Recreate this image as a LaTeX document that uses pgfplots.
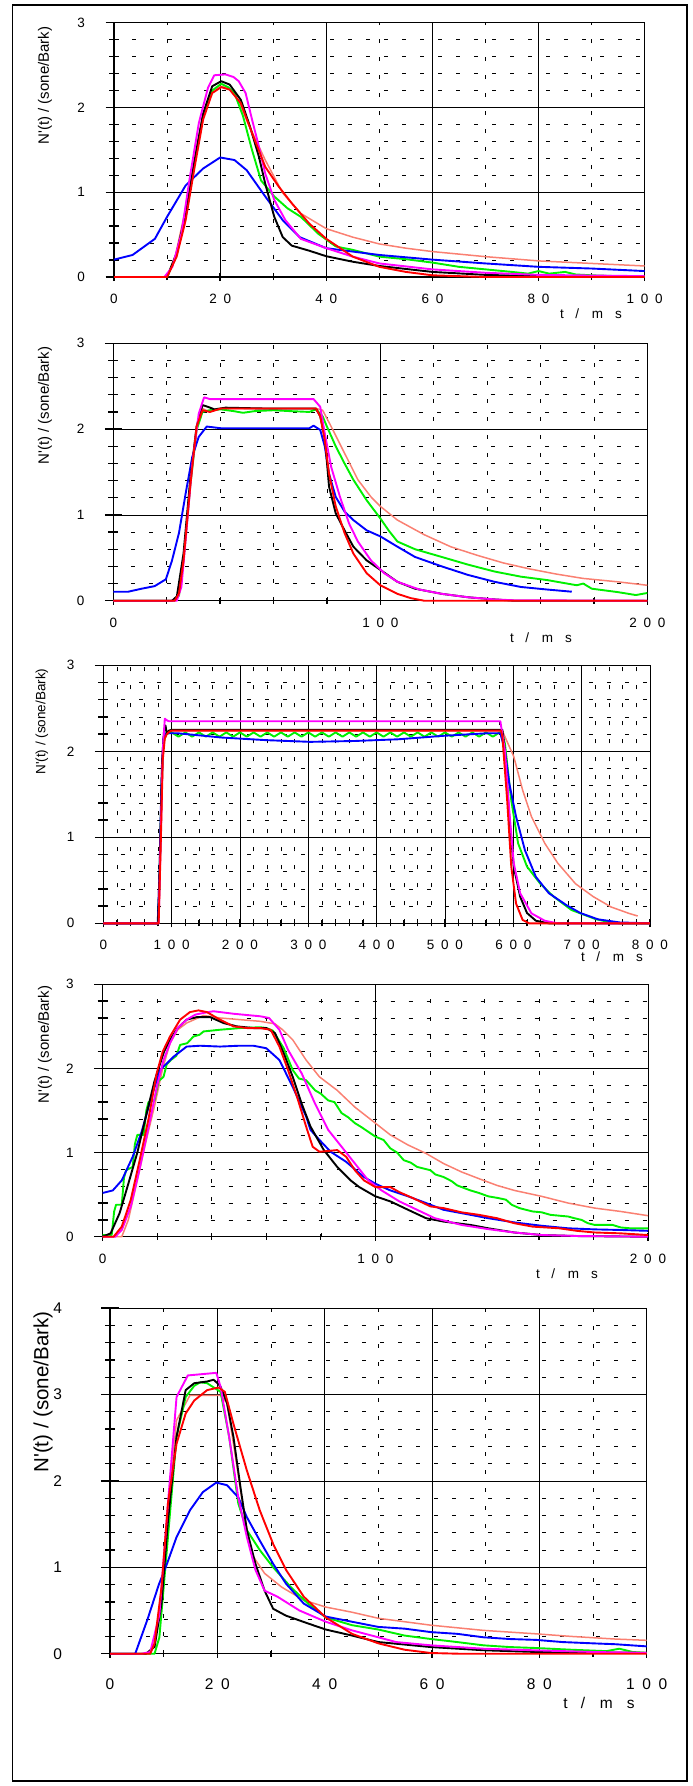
\documentclass[border=0pt]{standalone}
\usepackage{fontspec}
\setmainfont{Liberation Sans}
\usepackage{pgfplots}
\pgfplotsset{compat=1.18}

\definecolor{cSal}{RGB}{250,128,114}
\definecolor{cGrn}{RGB}{0,240,0}
\definecolor{cBlu}{RGB}{0,0,255}
\definecolor{cRed}{RGB}{255,0,0}
\definecolor{cMag}{RGB}{255,0,255}
\newcommand{\ds}{\hspace{0.5em}}
\newcommand{\tms}{t\hspace{0.85em}/\hspace{0.95em}m\hspace{0.9em}s}
\newcommand{\ylab}{N\textquotesingle(t) / (sone/Bark)}

\pgfplotsset{
  panel/.style={
    scale only axis, anchor=south west, clip=false,
    axis lines*=left, axis line style={black, line width=1.2pt},
    grid=both,
    major grid style={black, line width=0.6pt},
    minor grid style={black, line width=0.6pt, dash pattern=on 4pt off 14pt},
    tick align=center, major tick length=17pt, minor tick length=10pt,
    tick style={black, line width=1.3pt},
    xtick style={/pgfplots/major tick length=8pt, /pgfplots/minor tick length=6pt},
    ymin=0, ymax=3, ytick={0,1,2,3}, yticklabels={0,1,2,3}, minor y tick num=4,
    xmin=0,
    yticklabel style={font=\fontsize{13.5}{16}\selectfont, xshift=-17pt},
    xticklabel style={font=\fontsize{13.5}{16}\selectfont, yshift=-5pt},
  },
  sal/.style={cSal, line width=1.5pt, line join=round},
  grn/.style={cGrn, line width=1.9pt, line join=round},
  blu/.style={cBlu, line width=1.9pt, line join=round},
  blk/.style={black, line width=1.9pt, line join=round},
  mag/.style={cMag, line width=1.9pt, line join=round},
  red/.style={cRed, line width=1.9pt, line join=round},
}

\begin{document}
\begin{tikzpicture}
\useasboundingbox (0,0) rectangle (693pt,-1786pt);
\draw[line width=1.5pt] (12.7pt,-5pt) rectangle (687pt,-1781pt);

% ---------------- panel 1 : 0..100 ms
\begin{axis}[panel, at={(114pt,-277pt)}, width=530.7pt, height=254.3pt,
  xmax=100, xtick={0,20,...,100}, minor x tick num=1,
  xticklabels={0,2\ds0,4\ds0,6\ds0,8\ds0,1\ds0\ds0}]
\addplot[sal] coordinates {(0,0)(10,0)(11.6,0.26)(13.3,0.75)(15,1.38)(16.8,1.92)(18.5,2.2)(20.2,2.25)(21.8,2.22)(23.5,2.08)(25.2,1.82)(28.5,1.38)(31.8,0.99)(35.2,0.75)(40,0.57)(45,0.47)(50,0.39)(55,0.34)(60,0.30)(70,0.24)(80,0.19)(90,0.16)(100,0.13)};
\addplot[grn] coordinates {(0,0)(10,0)(11.8,0.26)(13.5,0.72)(15.2,1.35)(16.8,1.9)(18.5,2.2)(20.2,2.28)(21.5,2.24)(22.7,2.17)(24.3,1.9)(26,1.5)(27.7,1.14)(30.2,0.95)(32.7,0.81)(35.2,0.71)(38.5,0.51)(41.8,0.36)(45,0.32)(50,0.24)(55,0.21)(60,0.17)(65,0.12)(70,0.09)(75,0.06)(78,0.04)(80,0.07)(82,0.04)(85,0.06)(87,0.03)(90,0.02)(100,0)};
\addplot[blu] coordinates {(0,0.205)(3.5,0.26)(7.7,0.45)(10,0.71)(13.5,1.08)(16.8,1.28)(20,1.41)(22.7,1.38)(25,1.26)(28.5,0.95)(31.8,0.67)(35,0.47)(40,0.34)(45,0.30)(50,0.26)(60,0.205)(70,0.16)(80,0.12)(90,0.10)(100,0.07)};
\addplot[blk] coordinates {(0,0)(10,0)(11.8,0.28)(13.5,0.75)(15.2,1.38)(16.8,1.93)(18.5,2.25)(20.2,2.31)(21.8,2.27)(23.9,2.09)(25.6,1.78)(27.3,1.42)(28.5,1.1)(30.2,0.71)(31.8,0.47)(33.5,0.37)(36.8,0.31)(40,0.245)(45,0.18)(50,0.13)(60,0.06)(70,0.025)(80,0.01)(100,0)};
\addplot[mag] coordinates {(0,0)(9.5,0)(11,0.12)(12.7,0.51)(14.3,1.18)(16,1.82)(17.7,2.23)(18.9,2.38)(21,2.39)(22.5,2.36)(23.5,2.31)(24.8,2.17)(26,1.86)(27.3,1.54)(28.5,1.22)(30.2,0.91)(32.3,0.67)(35.2,0.45)(40,0.34)(45,0.24)(50,0.16)(60,0.09)(70,0.05)(80,0.025)(100,0.01)};
\addplot[red] coordinates {(0,0)(10,0)(11.8,0.24)(13.5,0.67)(15.2,1.3)(16.8,1.86)(18.5,2.17)(20.2,2.24)(21.8,2.21)(23.9,2.05)(26,1.7)(28.5,1.3)(31,1.07)(33.5,0.87)(36.8,0.63)(40,0.45)(45,0.24)(50,0.12)(55,0.06)(60,0.02)(70,0)(100,0)};
\end{axis}
\node[rotate=90, anchor=east, font=\fontsize{15}{16}\selectfont] at (45pt,-23pt) {\ylab};
\node[font=\fontsize{13.5}{16}\selectfont] at (591pt,-314pt) {\tms};

% ---------------- panel 2 : 0..200 ms
\begin{axis}[panel, at={(113.3pt,-600.7pt)}, width=534pt, height=257.4pt,
  xmax=200, xtick={0,100,200}, minor x tick num=4,
  xticklabels={0,1\ds0\ds0,2\ds0\ds0}]
\addplot[sal] coordinates {(0,0)(23,0)(24.6,0.08)(26.3,0.47)(28.8,1.35)(31.2,2.03)(33.4,2.24)(36,2.2)(40,2.24)(76,2.24)(78.4,2.22)(81.6,2.03)(86.6,1.72)(91.6,1.41)(96.5,1.21)(100,1.1)(106.4,0.94)(116.4,0.77)(126.3,0.63)(136.2,0.53)(146.1,0.44)(156,0.37)(166,0.31)(175.9,0.26)(189,0.22)(200,0.18)};
\addplot[grn] coordinates {(0,0)(23,0)(24.6,0.06)(26.3,0.47)(28.8,1.33)(31.2,1.99)(33.4,2.2)(36,2.22)(40.3,2.23)(45,2.21)(48.6,2.19)(53,2.21)(60,2.22)(66,2.21)(73.4,2.2)(75.9,2.23)(78.4,2.15)(80,2.03)(83.3,1.80)(86.6,1.6)(89.9,1.41)(94.9,1.17)(100,0.96)(103.1,0.82)(106.4,0.69)(113,0.6)(123,0.51)(132.9,0.42)(142.8,0.34)(152.7,0.28)(162.6,0.24)(173.6,0.18)(176,0.2)(179.2,0.14)(189,0.1)(195.7,0.066)(200,0.09)};
\addplot[blu] coordinates {(0,0.105)(5.6,0.105)(10.6,0.14)(15.5,0.17)(19.7,0.25)(22,0.47)(24.6,0.79)(27.1,1.25)(29.6,1.68)(32,1.91)(35,2.03)(40.3,2.01)(56.9,2.01)(73.4,2.01)(75,2.04)(77.5,1.99)(79.2,1.80)(80.8,1.48)(83.3,1.21)(86.6,1.04)(89.9,0.94)(94.9,0.82)(100,0.75)(106.4,0.63)(113,0.51)(123,0.40)(132.9,0.30)(142.8,0.22)(152.7,0.16)(162.6,0.13)(171.7,0.105)};
\addplot[blk] coordinates {(0,0)(22,0)(23.8,0.05)(26.3,0.55)(28.8,1.41)(31.2,2.03)(33.4,2.28)(35.4,2.26)(37.9,2.23)(42,2.25)(56.9,2.24)(75.9,2.24)(77.5,2.15)(79.2,1.91)(80.8,1.33)(83.3,1.02)(86.6,0.82)(89.9,0.63)(94.9,0.47)(100,0.36)(106.4,0.22)(113,0.14)(123,0.08)(132.9,0.04)(142.8,0.015)(150,0)(200,0)};
\addplot[mag] coordinates {(0,0)(23.8,0)(25.5,0.16)(27.1,0.71)(29.6,1.6)(32,2.18)(34,2.37)(36.2,2.35)(56.9,2.35)(75,2.35)(77.5,2.26)(79.2,1.95)(81.6,1.56)(84.9,1.21)(88.3,0.9)(91.6,0.69)(96.5,0.47)(101.5,0.32)(106.4,0.22)(114.7,0.13)(123,0.08)(132.9,0.04)(142.8,0.015)(150,0.005)(200,0)};
\addplot[red] coordinates {(0,0)(23,0)(24.6,0.085)(26.3,0.47)(28.8,1.33)(31.2,2.03)(33.4,2.22)(36.2,2.2)(40.3,2.24)(75.9,2.24)(77.5,2.15)(79.2,1.87)(80.8,1.48)(83.3,1.1)(86.6,0.79)(89.9,0.55)(94.9,0.32)(100,0.18)(106.4,0.08)(111.4,0.03)(116.4,0)(200,0)};
\end{axis}
\node[rotate=90, anchor=east, font=\fontsize{15}{16}\selectfont] at (45pt,-343pt) {\ylab};
\node[font=\fontsize{13.5}{16}\selectfont] at (541pt,-638pt) {\tms};

% ---------------- panel 3 : 0..800 ms
\begin{axis}[panel, at={(103.3pt,-923.3pt)}, width=546.7pt, height=258pt,
  xmax=800, xtick={0,100,...,800}, minor x tick num=4,
  xticklabels={0,1\ds0\ds0,2\ds0\ds0,3\ds0\ds0,4\ds0\ds0,5\ds0\ds0,6\ds0\ds0,7\ds0\ds0,8\ds0\ds0}]
\addplot[sal] coordinates {(0,0)(81,0)(84,0.9)(87,1.9)(90,2.18)(95,2.24)(584,2.24)(587.7,2.17)(600.6,1.94)(613.6,1.55)(626.5,1.24)(646,0.93)(665,0.70)(691,0.46)(717,0.31)(743,0.19)(769,0.116)(782,0.085)};
\addplot[grn] coordinates {(0,0)(80,0)(82,0.4)(85,1.5)(88,2.1)(92,2.2)(100,2.22)(110,2.17)(120,2.22)(130,2.17)(140,2.22)(150,2.17)(160,2.22)(170,2.17)(180,2.22)(190,2.17)(200,2.22)(210,2.17)(220,2.22)(230,2.17)(240,2.22)(250,2.17)(260,2.22)(270,2.17)(280,2.22)(290,2.17)(300,2.22)(310,2.17)(320,2.22)(330,2.17)(340,2.22)(350,2.17)(360,2.22)(370,2.17)(380,2.22)(390,2.17)(400,2.22)(410,2.17)(420,2.22)(430,2.17)(440,2.22)(450,2.17)(460,2.22)(470,2.17)(480,2.22)(490,2.17)(500,2.22)(510,2.17)(520,2.22)(530,2.17)(540,2.22)(550,2.17)(560,2.22)(570,2.17)(580,2.22)(584,2.2)(587.7,2.09)(597,1.43)(607,0.93)(620,0.66)(639.5,0.46)(659,0.31)(685,0.155)(700,0.11)(711,0.077)(720,0.05)(736.5,0.02)(756,0)(800,0)};
\addplot[blu] coordinates {(0,0)(79.6,0)(82,0.5)(85,1.6)(88,2.15)(92,2.21)(108.7,2.21)(173.5,2.16)(238,2.13)(303,2.11)(367.6,2.12)(432,2.14)(497,2.18)(562,2.21)(581,2.21)(587.7,2.01)(594,1.63)(604,1.24)(617,0.85)(633,0.54)(652,0.35)(678,0.21)(698,0.12)(724,0.046)(756,0.01)(800,0)};
\addplot[blk] coordinates {(0,0)(80,0)(83,0.8)(86,1.9)(89,2.25)(91,2.3)(93,2.2)(96,2.24)(100,2.25)(584,2.25)(587.7,2.01)(594,1.24)(600.6,0.66)(610,0.31)(620,0.12)(633,0.03)(652,0)(800,0)};
\addplot[mag] coordinates {(0,0)(81,0)(84,1.0)(87,2.0)(90,2.38)(93,2.36)(96,2.35)(581,2.35)(587.7,2.01)(594,1.32)(600.6,0.70)(610,0.35)(626.5,0.116)(646,0.03)(665,0)(800,0)};
\addplot[red] coordinates {(0,0)(81,0)(84,0.9)(87,1.9)(90,2.15)(93,2.2)(97,2.23)(100,2.24)(582,2.24)(584,2.17)(591,1.43)(597,0.66)(604,0.23)(613.6,0.04)(623,0)(800,0)};
\end{axis}
\node[rotate=90, anchor=east, font=\fontsize{13.5}{16}\selectfont] at (42pt,-665pt) {\ylab};
\node[font=\fontsize{13.5}{16}\selectfont] at (612pt,-957pt) {\tms};

% ---------------- panel 4 : 0..200 ms
\begin{axis}[panel, at={(102.7pt,-1236.7pt)}, width=545.3pt, height=252.4pt,
  xmax=200, xtick={0,100,200}, minor x tick num=4,
  xticklabels={0,1\ds0\ds0,2\ds0\ds0}]
\addplot[sal] coordinates {(0,0)(7,0)(9.4,0.2)(12.7,0.67)(16,1.15)(19.2,1.58)(22,2.0)(24.7,2.3)(27.5,2.46)(30.8,2.54)(37,2.63)(43,2.6)(50.4,2.58)(57.8,2.56)(63.2,2.53)(66,2.46)(69.7,2.34)(74.6,2.1)(79.5,1.9)(86,1.74)(92.5,1.54)(100,1.35)(105.5,1.21)(112,1.09)(118.6,0.99)(125,0.87)(131.6,0.77)(138,0.69)(144.6,0.61)(151,0.55)(161,0.48)(170.7,0.40)(180.5,0.34)(190,0.3)(200,0.25)};
\addplot[grn] coordinates {(0,0.02)(3.3,0.02)(4.2,0.3)(4.9,0.38)(7,0.38)(7.8,0.7)(8.6,0.79)(11,0.83)(11.8,1.1)(12.7,1.21)(15,1.21)(16,1.5)(16.8,1.6)(19,1.62)(20.5,1.85)(22.3,1.9)(23.5,2.05)(25,2.1)(27,2.15)(28.4,2.28)(31,2.3)(33.3,2.38)(35.5,2.4)(37,2.44)(43,2.46)(50.4,2.48)(57.8,2.49)(60,2.48)(62.4,2.45)(66.4,2.24)(69.7,1.98)(72,1.88)(74.6,1.86)(77.9,1.74)(80,1.7)(82.7,1.62)(85,1.6)(87.6,1.47)(90,1.42)(92.5,1.35)(95,1.3)(100,1.19)(103,1.15)(105.5,1.05)(108,1.0)(110.4,0.91)(113,0.88)(115.3,0.83)(120.2,0.79)(122,0.74)(125,0.71)(128,0.66)(130,0.61)(134.9,0.55)(138,0.52)(141.4,0.48)(145,0.46)(147.9,0.44)(150,0.38)(152.8,0.34)(157.7,0.3)(161,0.29)(164.2,0.26)(170.7,0.24)(173,0.22)(175.6,0.2)(178,0.16)(180.5,0.14)(187,0.14)(190,0.11)(193.5,0.1)(200,0.1)};
\addplot[blu] coordinates {(0,0.52)(3.7,0.55)(7,0.67)(11,0.95)(14.3,1.25)(17.5,1.62)(21,1.98)(26,2.14)(30.8,2.26)(35.7,2.27)(43,2.26)(50,2.27)(55.3,2.27)(60,2.24)(64.8,2.1)(69.7,1.78)(74.6,1.43)(76.2,1.27)(79.5,1.15)(83.6,1.01)(89.3,0.89)(95.8,0.71)(100,0.63)(105.5,0.55)(112,0.48)(118.6,0.40)(125,0.32)(134.9,0.26)(141.4,0.22)(151,0.17)(161,0.13)(170.7,0.1)(180.5,0.087)(190,0.08)(200,0.07)};
\addplot[blk] coordinates {(0,0)(2.9,0.04)(6.2,0.28)(9.4,0.63)(12.7,1.0)(16,1.45)(19,1.85)(20.5,2.0)(22.5,2.2)(24.7,2.34)(27.5,2.48)(30.8,2.58)(34.5,2.61)(39.4,2.61)(44.3,2.54)(49.2,2.5)(55.3,2.48)(60,2.48)(63.2,2.42)(66.4,2.18)(69.7,1.9)(73,1.58)(76.2,1.31)(81.1,1.03)(86,0.83)(90.9,0.67)(94.1,0.59)(100,0.48)(105.5,0.42)(112,0.32)(118.6,0.22)(125,0.18)(134.9,0.14)(141.4,0.1)(151,0.05)(161,0.02)(173.9,0.008)(200,0)};
\addplot[mag] coordinates {(0,0)(4.6,0)(7,0.08)(10.3,0.36)(13.5,0.8)(16.8,1.3)(20,1.8)(22.3,2.1)(24.7,2.3)(27.5,2.48)(30.8,2.58)(34,2.64)(37,2.66)(40.6,2.68)(48,2.65)(57.8,2.62)(61,2.6)(64.8,2.46)(68,2.22)(73,1.94)(77.9,1.58)(82.7,1.27)(87.6,1.07)(92.5,0.87)(97.4,0.67)(102.3,0.55)(108.8,0.42)(115.3,0.32)(121.8,0.22)(131.6,0.14)(141.4,0.09)(151,0.05)(161,0.02)(175,0.008)(200,0)};
\addplot[red] coordinates {(0,0)(4,0)(7,0.12)(10.3,0.44)(13.5,0.9)(16.8,1.4)(19.8,1.94)(22,2.2)(24.7,2.38)(28.4,2.58)(32,2.67)(35.1,2.69)(38.2,2.67)(43,2.58)(48,2.5)(52.9,2.48)(57.8,2.48)(61.6,2.46)(64.8,2.26)(68,1.98)(71.3,1.66)(74.6,1.31)(77,1.07)(79.5,1.01)(83,1.02)(86,1.03)(89.3,0.95)(92.5,0.79)(95.8,0.67)(100,0.59)(105.5,0.59)(108.8,0.53)(113.7,0.46)(120.2,0.36)(125,0.34)(131.6,0.29)(138,0.26)(144.6,0.22)(151,0.16)(157.7,0.12)(167.4,0.1)(173.9,0.07)(180.5,0.05)(190,0.04)(200,0.02)};
\end{axis}
\node[rotate=90, anchor=east, font=\fontsize{15}{16}\selectfont] at (45pt,-982pt) {\ylab};
\node[font=\fontsize{13.5}{16}\selectfont] at (567pt,-1274pt) {\tms};

% ---------------- panel 5 : 0..100 ms, 0..4
\begin{axis}[panel, at={(110pt,-1653.7pt)}, width=536.7pt, height=345.7pt,
  ymax=4, ytick={0,1,2,3,4}, yticklabels={0,1,2,3,4},
  yticklabel style={font=\fontsize{15.5}{18}\selectfont, xshift=-19pt},
  xticklabel style={font=\fontsize{15.5}{18}\selectfont, yshift=-8pt},
  xmax=100, xtick={0,20,...,100}, minor x tick num=1,
  xticklabels={0,2\ds0,4\ds0,6\ds0,8\ds0,1\ds0\ds0}]
\addplot[sal] coordinates {(0,0)(7.5,0)(8.5,0.15)(9.8,0.85)(11,1.8)(12.4,2.7)(14.9,2.99)(20.6,2.99)(21.8,2.9)(23,2.43)(24.7,1.74)(26.3,1.16)(28.8,0.93)(32,0.77)(36.1,0.62)(40.2,0.54)(45.1,0.48)(50,0.41)(54.9,0.37)(59.8,0.33)(64.7,0.30)(69.6,0.27)(79.4,0.23)(86,0.2)(94.1,0.17)(100,0.155)};
\addplot[grn] coordinates {(0,0)(8.3,0)(9.2,0.19)(10.8,1.35)(12.4,2.51)(14.1,2.97)(15.7,3.1)(16.8,3.14)(18.1,3.13)(20.6,3.03)(22.2,2.51)(23.9,1.74)(25.5,1.43)(27.9,1.2)(30.4,1.0)(33.7,0.77)(36.9,0.58)(40.2,0.42)(45.1,0.33)(50,0.28)(54.9,0.21)(59.8,0.17)(64.7,0.135)(69.6,0.097)(74.5,0.077)(79.4,0.066)(86,0.046)(92.5,0.03)(94.9,0.058)(97.4,0.02)(100,0.01)};
\addplot[blu] coordinates {(0,0)(4.7,0)(7,0.4)(9.1,0.8)(10.5,1.02)(12.4,1.35)(14.9,1.66)(17.3,1.87)(19.8,1.98)(21.8,1.95)(23.9,1.81)(25.5,1.58)(27.9,1.31)(30.4,1.04)(32.8,0.81)(36.1,0.58)(40.2,0.43)(45.1,0.37)(50,0.31)(54.9,0.29)(59.8,0.25)(64.7,0.23)(69.6,0.19)(74.5,0.17)(79.4,0.16)(84.3,0.135)(90,0.12)(94.1,0.11)(100,0.085)};
\addplot[blk] coordinates {(0,0)(6.7,0)(8.3,0.08)(9.6,0.58)(10.8,1.54)(12.4,2.51)(14.1,3.05)(15.7,3.13)(18.1,3.15)(19.3,3.17)(20.2,3.12)(20.6,3.09)(21.8,2.9)(23,2.51)(24.3,1.93)(25.5,1.43)(27.1,1.04)(28.8,0.73)(30.4,0.52)(32.8,0.44)(36.9,0.35)(40.2,0.28)(45.1,0.21)(50,0.135)(59.8,0.077)(69.6,0.04)(79.4,0.02)(100,0.01)};
\addplot[mag] coordinates {(0,0)(5.9,0)(7.5,0.02)(9.2,0.45)(10.8,1.74)(12.4,2.97)(14.5,3.22)(19.8,3.25)(20.6,3.09)(22.2,2.51)(23.9,1.81)(25.5,1.35)(27.1,0.97)(28.8,0.73)(31.2,0.66)(35.3,0.5)(40.2,0.37)(45.1,0.27)(50,0.19)(53.3,0.135)(59.8,0.097)(69.6,0.058)(79.4,0.039)(90,0.02)(100,0.01)};
\addplot[red] coordinates {(0,0)(7.5,0)(8.3,0.12)(9.6,0.77)(10.8,1.74)(12.4,2.43)(14.1,2.78)(15.7,2.93)(18.1,3.05)(20.2,3.08)(21.4,3.03)(23,2.66)(25.5,2.12)(27.9,1.66)(30.4,1.27)(32.8,0.97)(36.1,0.66)(40.2,0.42)(45.1,0.23)(50,0.12)(54.9,0.046)(59.8,0.008)(65,0)(100,0)};
\end{axis}
\node[rotate=90, anchor=east, font=\fontsize{20.5}{22}\selectfont] at (43pt,-1308pt) {\ylab};
\node[font=\fontsize{15.5}{18}\selectfont] at (599pt,-1703pt) {\tms};
\end{tikzpicture}
\end{document}
